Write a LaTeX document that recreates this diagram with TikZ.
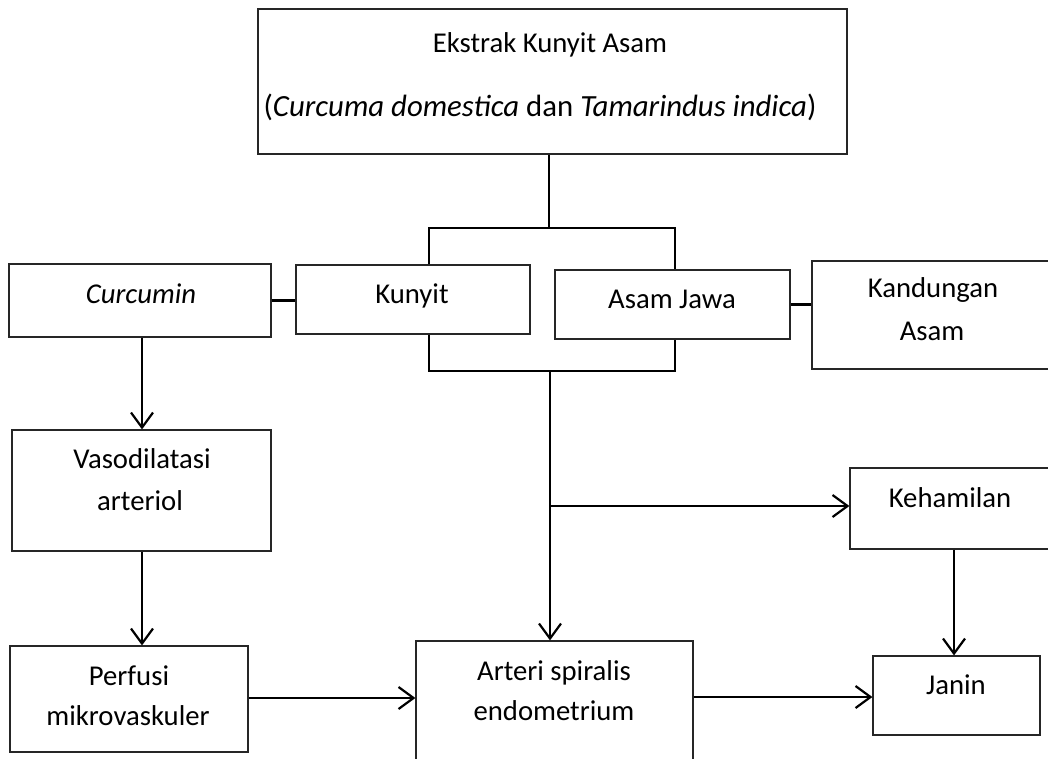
\documentclass[tikz,border=0pt]{standalone}
\usepackage{fontspec}
\setmainfont{Carlito}
\usetikzlibrary{arrows.meta}
\begin{document}
\begin{tikzpicture}[x=1pt,y=-1pt,
  box/.style={draw=black!85, line width=1.2pt, inner sep=0pt},
  lbl/.style={inner sep=0pt, anchor=base, font=\fontsize{28.7}{34}\selectfont},
  conn/.style={line width=2.4pt, black},
  arr/.style={conn, -{Straight Barb[length=15pt,width=22pt,line width=2.2pt]}}]
\useasboundingbox (0,0) rectangle (1048,758);
\clip (0,0) rectangle (1048,758);
% boxes
\node[box, minimum width=589, minimum height=145] (top) at (552.5,81.5) {};
\node[box, minimum width=262, minimum height=73] (curcumin) at (140,300.5) {};
\node[box, minimum width=234, minimum height=69] (kunyit) at (413,299.5) {};
\node[box, minimum width=235, minimum height=69] (asam) at (672.5,304.5) {};
\node[box, minimum width=258, minimum height=108] (kand) at (941,315) {};
\node[box, minimum width=259, minimum height=121] (vaso) at (141.5,490.5) {};
\node[box, minimum width=238, minimum height=106] (perfusi) at (129,699) {};
\node[box, minimum width=277, minimum height=149] (arteri) at (554.5,715.5) {};
\node[box, minimum width=220, minimum height=81] (keham) at (960,508.5) {};
\node[box, minimum width=167, minimum height=79] (janin) at (956.5,695.5) {};
% texts
\node[lbl] (t1) at (550,52) {Ekstrak Kunyit Asam};
\node[lbl, font=\fontsize{30.8}{36}\selectfont] (t2) at (540,116) {(\textit{Curcuma domestica} dan \textit{Tamarindus indica})};
\node[lbl] (tcur) at (141,303) {\textit{Curcumin}};
\node[lbl] (tkun) at (412,303) {Kunyit};
\node[lbl] (tasam) at (672,308) {Asam Jawa};
\node[lbl] (tkand1) at (933,297) {Kandungan};
\node[lbl] (tkand2) at (932,340) {Asam};
\node[lbl] (tvaso1) at (142,468) {Vasodilatasi};
\node[lbl] (tvaso2) at (140,510) {arteriol};
\node[lbl] (tper1) at (129,685) {Perfusi};
\node[lbl] (tper2) at (128,725) {mikrovaskuler};
\node[lbl] (tart1) at (554,680) {Arteri spiralis};
\node[lbl] (tart2) at (554,720) {endometrium};
\node[lbl] (tkeh) at (950,507) {Kehamilan};
\node[lbl] (tjan) at (956,694) {Janin};
% junction coordinates
\coordinate (b1) at (549,228);
\coordinate (b2) at (550,371);
\coordinate (br) at (550,506);
% top bracket
\draw[conn] (top.south -| b1) -- (b1);
\draw[conn] ([xshift=16pt]kunyit.north) |- (b1) -| ([xshift=2.5pt]asam.north);
% side links
\draw[conn] (curcumin.east) -- (curcumin.east -| kunyit.west);
\draw[conn] (asam.east) -- (asam.east -| kand.west);
% bottom bracket
\draw[conn] ([xshift=16pt]kunyit.south) |- (b2) -| ([xshift=2.5pt]asam.south);
\draw[arr] (b2) -- (b2 |- arteri.north);
\draw[arr] (br) -- (br -| keham.west);
% left column
\draw[arr] ([xshift=2pt]curcumin.south) -- ([xshift=2pt]curcumin.south |- vaso.north);
\draw[arr] ([xshift=0.5pt]vaso.south) -- ([xshift=0.5pt]vaso.south |- perfusi.north);
% bottom row
\coordinate (r1) at (248,698);
\draw[arr] (perfusi.east |- r1) -- (arteri.west |- r1);
\coordinate (r2) at (693,697);
\draw[arr] (arteri.east |- r2) -- (janin.west |- r2);
\draw[arr] ([xshift=-6pt]keham.south) -- ([xshift=-6pt]keham.south |- janin.north);
\end{tikzpicture}
\end{document}
